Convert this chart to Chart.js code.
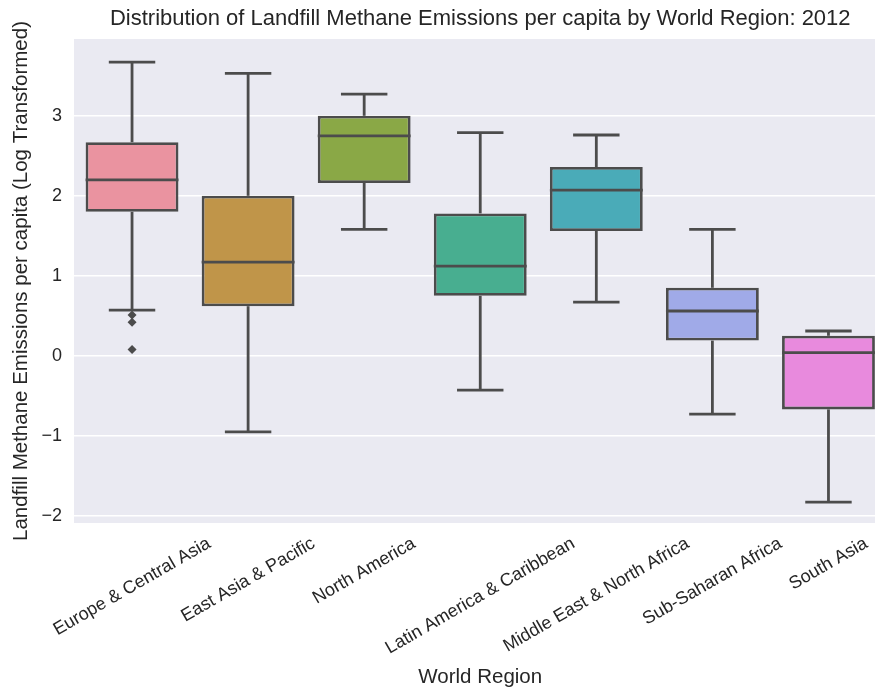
<!DOCTYPE html>
<html lang="en">
<head>
    <meta charset="UTF-8">
    <title>Landfill Methane Emissions per capita by World Region: 2012</title>
    <script src="https://cdn.jsdelivr.net/npm/chart.js"></script>
    <style>
        html, body { margin: 0; padding: 0; overflow: hidden; background: #fff; }
        #wrap { position: absolute; left: 0; top: 0; width: 891px; height: 692px; }
    </style>
</head>
<body>
    <div id="wrap"><canvas id="boxChart"></canvas></div>
    <script>
        // values (log scale)
        const regions = ['Europe & Central Asia', 'East Asia & Pacific', 'North America',
            'Latin America & Caribbean', 'Middle East & North Africa', 'Sub-Saharan Africa', 'South Asia'];
        const whiskerLow = [0.57, -0.95, 1.58, -0.43, 0.67, -0.73, -1.83];
        const q1 = [1.80, 0.62, 2.16, 0.75, 1.56, 0.19, -0.67];
        const medians = [2.20, 1.17, 2.75, 1.12, 2.07, 0.56, 0.04];
        const q3 = [2.67, 2.00, 3.00, 1.78, 2.36, 0.85, 0.25];
        const whiskerHigh = [3.67, 3.53, 3.27, 2.79, 2.76, 1.58, 0.31];
        const outlierRegions = ['Europe & Central Asia', 'Europe & Central Asia', 'Europe & Central Asia'];
        const outlierValues = [0.51, 0.42, 0.08];
        const boxColors = ['#ea93a0', '#c09549', '#8aa846', '#48ae90', '#4aabb8', '#a0aae8', '#e88add'];
        const yTicks = [-2, -1, 0, 1, 2, 3];

        const lineColor = '#4c4c4c';
        const textColor = '#262626';
        const font = 'Liberation Sans, Arial, sans-serif';
        const tickSize = 18;

        // plot background like seaborn darkgrid
        const plotBg = {
            id: 'plotBg',
            beforeDraw(chart) {
                const { ctx, chartArea: a } = chart;
                ctx.save();
                ctx.fillStyle = '#eaeaf2';
                ctx.fillRect(a.left, a.top, a.right - a.left, a.bottom - a.top);
                ctx.restore();
            }
        };

        // whiskers, caps and medians drawn through the scales
        const boxLines = {
            id: 'boxLines',
            afterDatasetsDraw(chart) {
                const { ctx, scales: { x, y } } = chart;
                const bars = chart.getDatasetMeta(0).data;
                ctx.save();
                ctx.strokeStyle = lineColor;
                ctx.lineWidth = 2.8;
                bars.forEach((bar, i) => {
                    const cx = x.getPixelForValue(i);
                    const half = bar.width / 2;
                    const cap = half / 2;
                    const seg = (x1, y1, x2, y2) => {
                        ctx.beginPath(); ctx.moveTo(x1, y1); ctx.lineTo(x2, y2); ctx.stroke();
                    };
                    seg(cx, y.getPixelForValue(q3[i]), cx, y.getPixelForValue(whiskerHigh[i]));
                    seg(cx, y.getPixelForValue(q1[i]), cx, y.getPixelForValue(whiskerLow[i]));
                    seg(cx - cap, y.getPixelForValue(whiskerHigh[i]), cx + cap, y.getPixelForValue(whiskerHigh[i]));
                    seg(cx - cap, y.getPixelForValue(whiskerLow[i]), cx + cap, y.getPixelForValue(whiskerLow[i]));
                    seg(cx - half, y.getPixelForValue(medians[i]), cx + half, y.getPixelForValue(medians[i]));
                });
                ctx.restore();
            }
        };

        // matplotlib style rotated labels: centred on the tick, top of the box just under the axis
        const xLabels = {
            id: 'xLabels',
            afterDraw(chart) {
                const { ctx, scales: { x } } = chart;
                const ang = 30 * Math.PI / 180;
                const top = chart.chartArea.bottom + 13;
                ctx.save();
                ctx.font = tickSize + 'px ' + font;
                ctx.fillStyle = textColor;
                ctx.textAlign = 'center';
                ctx.textBaseline = 'middle';
                regions.forEach((label, i) => {
                    const w = ctx.measureText(label).width;
                    const h = tickSize * 0.8;
                    const boxH = w * Math.sin(ang) + h * Math.cos(ang);
                    ctx.save();
                    ctx.translate(x.getPixelForValue(i), top + boxH / 2);
                    ctx.rotate(-ang);
                    ctx.fillText(label, 0, 0);
                    ctx.restore();
                });
                ctx.restore();
            }
        };

        const ctx = document.getElementById('boxChart').getContext('2d');
        new Chart(ctx, {
            type: 'bar',
            data: {
                labels: regions,
                datasets: [{
                    data: regions.map((r, i) => [q1[i], q3[i]]),
                    backgroundColor: boxColors,
                    borderColor: lineColor,
                    borderWidth: 2.8,
                    borderSkipped: false,
                    barPercentage: 0.8,
                    categoryPercentage: 1
                }, {
                    type: 'line',
                    data: outlierRegions.map((r, i) => ({ x: r, y: outlierValues[i] })),
                    showLine: false,
                    pointStyle: 'rectRot',
                    pointRadius: 4.5,
                    backgroundColor: lineColor,
                    borderColor: lineColor,
                    borderWidth: 0
                }]
            },
            options: {
                responsive: true,
                maintainAspectRatio: false,
                animation: false,
                layout: { padding: 0 },
                plugins: {
                    legend: { display: false },
                    tooltip: { enabled: false },
                    title: {
                        display: true,
                        text: 'Distribution of Landfill Methane Emissions per capita by World Region: 2012',
                        fullSize: false,
                        color: textColor,
                        font: { family: font, size: 22, weight: 'normal' },
                        padding: { top: 6, bottom: 6.6 }
                    }
                },
                scales: {
                    x: {
                        grid: { display: false },
                        border: { display: false },
                        ticks: { display: false },
                        title: {
                            display: true,
                            text: 'World Region',
                            color: textColor,
                            font: { family: font, size: 20.5 },
                            padding: { top: 0, bottom: 2 }
                        },
                        afterFit(s) { s.height = 169; s.paddingLeft = 0; s.paddingRight = 0; }
                    },
                    y: {
                        min: -2.09,
                        max: 3.96,
                        afterBuildTicks(s) { s.ticks = yTicks.map(v => ({ value: v })); },
                        grid: { color: '#ffffff', lineWidth: 1.6, drawTicks: false },
                        border: { display: false },
                        ticks: {
                            color: textColor,
                            font: { family: font, size: tickSize },
                            padding: 12,
                            callback: v => (v < 0 ? '\u2212' + Math.abs(v) : String(v))
                        },
                        title: {
                            display: true,
                            text: 'Landfill Methane Emissions per capita (Log Transformed)',
                            color: textColor,
                            font: { family: font, size: 20.5 },
                            padding: { top: 9, bottom: 0 }
                        },
                        afterFit(s) { s.width = 74; }
                    }
                }
            },
            plugins: [plotBg, boxLines, xLabels]
        });
    </script>
</body>
</html>
